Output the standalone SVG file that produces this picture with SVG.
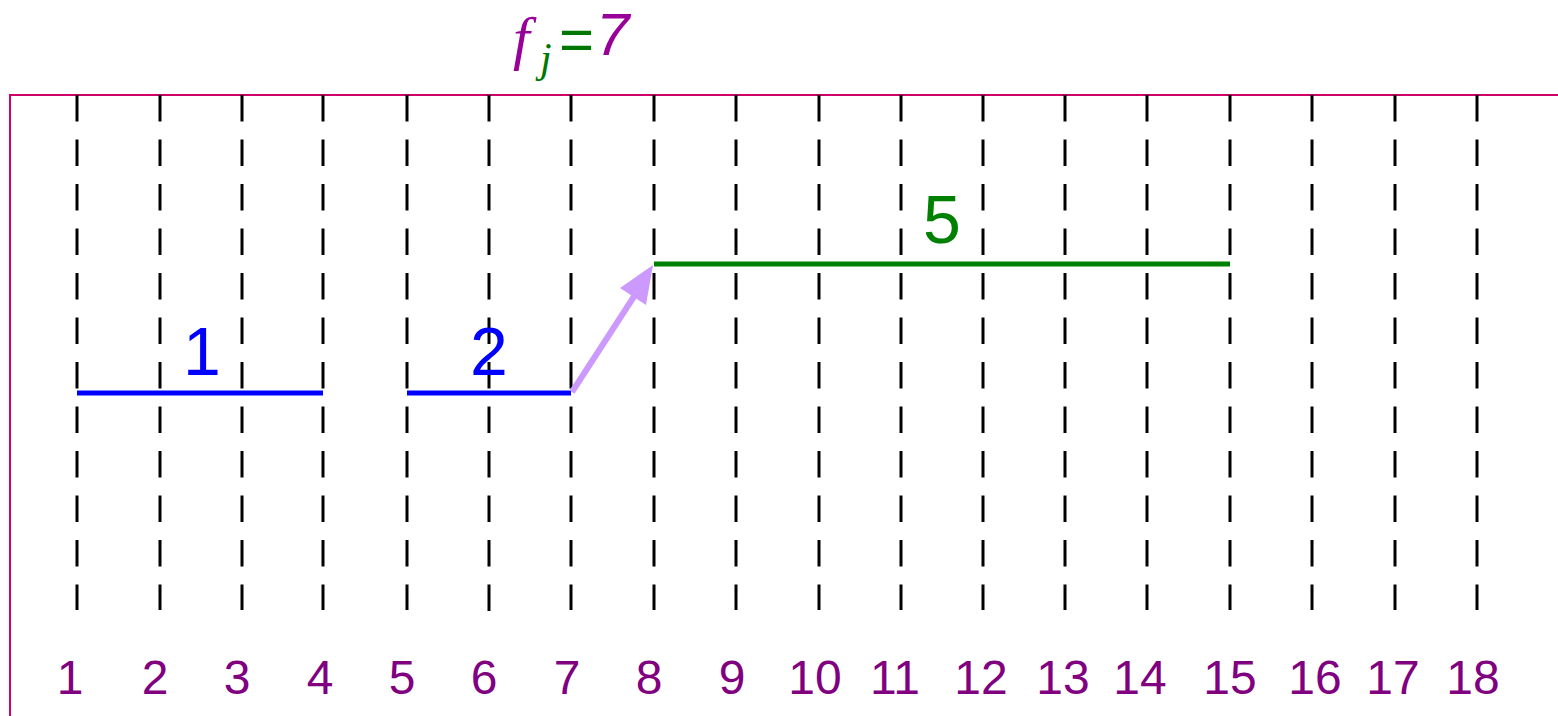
<svg xmlns="http://www.w3.org/2000/svg" width="1558" height="716" viewBox="0 0 1558 716">
<style>
.grid line{stroke:#000;stroke-width:3;stroke-dasharray:26.5 18}
.num{font-family:"Liberation Sans",Arial,sans-serif;font-size:48px;fill:#800080;text-anchor:middle}
.lab{font-family:"Liberation Sans",Arial,sans-serif;font-size:68px;text-anchor:middle}
</style>
<rect width="1558" height="716" fill="#fff"/>
<g id="frame"><path d="M10,716 V95 H1558" fill="none" stroke="#cc0066" stroke-width="2"/></g>
<g id="grid" class="grid">
<line x1="77" y1="95" x2="77" y2="610"/>
<line x1="160" y1="95" x2="160" y2="610"/>
<line x1="242" y1="95" x2="242" y2="610"/>
<line x1="323" y1="95" x2="323" y2="610"/>
<line x1="407" y1="95" x2="407" y2="610"/>
<line x1="489" y1="95" x2="489" y2="613"/>
<line x1="571" y1="95" x2="571" y2="610"/>
<line x1="654" y1="95" x2="654" y2="610"/>
<line x1="736" y1="95" x2="736" y2="610"/>
<line x1="819" y1="95" x2="819" y2="610"/>
<line x1="901" y1="95" x2="901" y2="610"/>
<line x1="983" y1="95" x2="983" y2="610"/>
<line x1="1065" y1="95" x2="1065" y2="610"/>
<line x1="1147" y1="95" x2="1147" y2="610"/>
<line x1="1230" y1="95" x2="1230" y2="610"/>
<line x1="1312" y1="95" x2="1312" y2="610"/>
<line x1="1395" y1="95" x2="1395" y2="610"/>
<line x1="1477" y1="95" x2="1477" y2="610"/>
</g>
<g id="seg1"><line x1="77" y1="393" x2="323" y2="393" stroke="#0000ff" stroke-width="5"/><text class="lab" x="202" y="375" fill="#0000ff">1</text></g>
<g id="seg2"><line x1="407" y1="393" x2="571" y2="393" stroke="#0000ff" stroke-width="5"/><text class="lab" x="489" y="375" fill="#0000ff">2</text></g>
<g id="seg5"><line x1="654" y1="264" x2="1230" y2="264" stroke="#008000" stroke-width="5"/><text class="lab" x="942" y="243" fill="#008000">5</text></g>
<g id="connectors"><line x1="572" y1="392" x2="646" y2="278" stroke="#cc99ff" stroke-width="6"/><path d="M653,265 L646,305 L620,288 z" fill="#cc99ff"/></g>
<g id="title"><text x="513" y="58" font-family="Liberation Serif,serif" font-style="italic" font-size="60" fill="#990099">f</text><text x="540" y="72" font-family="Liberation Serif,serif" font-style="italic" font-size="42" fill="#007700">j</text><text x="559" y="60" font-family="Liberation Sans,sans-serif" font-size="60" fill="#007700">=</text><text x="596" y="55" font-family="Liberation Sans,sans-serif" font-style="italic" font-size="60" fill="#990099">7</text></g>
<g id="axis">
<text class="num" x="70" y="694">1</text>
<text class="num" x="155" y="694">2</text>
<text class="num" x="237" y="694">3</text>
<text class="num" x="320" y="694">4</text>
<text class="num" x="402" y="694">5</text>
<text class="num" x="484" y="694">6</text>
<text class="num" x="567" y="694">7</text>
<text class="num" x="649" y="694">8</text>
<text class="num" x="732" y="694">9</text>
<text class="num" x="815" y="694">10</text>
<text class="num" x="895" y="694">11</text>
<text class="num" x="981" y="694">12</text>
<text class="num" x="1063" y="694">13</text>
<text class="num" x="1140" y="694">14</text>
<text class="num" x="1230" y="694">15</text>
<text class="num" x="1315" y="694">16</text>
<text class="num" x="1393" y="694">17</text>
<text class="num" x="1473" y="694">18</text>
</g>
</svg>
